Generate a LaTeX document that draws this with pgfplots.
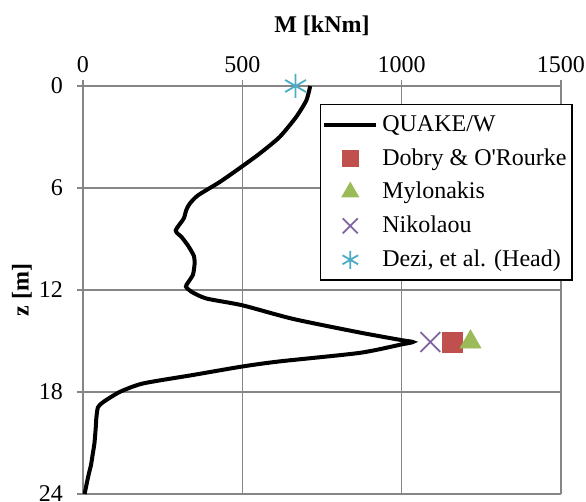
\documentclass[border=0pt]{standalone}
\usepackage{pgfplots}
\pgfplotsset{compat=1.18}
\usepackage{fontspec}
\setmainfont{Liberation Serif}
\definecolor{gridgray}{RGB}{134,134,134}
\definecolor{xred}{RGB}{192,80,77}
\definecolor{xgreen}{RGB}{155,187,89}
\definecolor{xpurple}{RGB}{128,100,162}
\definecolor{xcyan}{RGB}{75,172,198}
\pgfplotsset{
  lineleg/.style={legend image code/.code={\draw[##1] (0pt,0pt) -- (26pt,0pt);}},
  markleg/.style={legend image code/.code={\draw[##1, mark size=#1] plot coordinates {(13pt,0pt)};}},
}
\begin{document}
\begin{tikzpicture}
\begin{axis}[
  scale only axis, width=239pt, height=204pt,
  xmin=0, xmax=1500, ymin=0, ymax=24,
  y dir=reverse,
  axis x line*=top, axis y line*=left,
  axis line style={gridgray, line width=0.75pt, -},
  xtick={0,500,1000,1500}, ytick={0,6,12,18,24},
  grid=major, grid style={gridgray, line width=0.75pt},
  tick align=outside, major tick length=3pt,
  tick style={gridgray, line width=0.75pt},
  font=\fontsize{12}{14}\selectfont,
  yticklabel style={xshift=-3.5pt},
  /pgf/number format/assume math mode=true,
  /pgf/number format/set thousands separator={},
  every axis x label/.style={at={(axis description cs:0.5,1)}, anchor=center, yshift=30pt},
  every axis y label/.style={at={(axis description cs:0,0.5)}, anchor=center, xshift=-30.5pt, rotate=90},
  xlabel={\textbf{M [kNm]}}, ylabel={\textbf{z [m]}},
  legend style={at={(axis description cs:1.025,0.956)}, anchor=north east,
    draw=black, line width=0.75pt, font=\fontsize{12}{14}\selectfont,
    cells={anchor=west}, row sep=3.1pt, inner xsep=0.8pt, inner ysep=3.3pt},
  clip=false,
]
\addplot[black, line width=2pt, smooth, tension=0.4, lineleg] coordinates {
(713,0) (701,0.84) (669,1.82) (617,3.0) (554,3.98) (497,4.76) (429,5.65)
(361,6.43) (335,6.92) (324,7.3) (316,7.8) (291,8.5) (310,8.9) (330,9.4) (348,10.0)
(350,10.5) (345,11.1) (330,11.55) (323,11.8) (340,12.1) (387,12.5) (500,12.9)
(659,13.7) (868,14.5) (1000,14.95) (1035,15.06) (1000,15.2) (868,15.7) (617,16.2)
(500,16.5) (345,17.0) (188,17.5) (115,18.0) (63,18.6) (47,18.9) (42,19.5) (40,20.1)
(36,21.0) (31,21.6) (25,22.3) (16,23.0) (5,24)};
\addlegendentry{QUAKE/W}
\addplot[only marks, mark=square*, mark size=5pt, color=xred, markleg=3.8pt] coordinates {(1159,15.06)};
\addlegendentry{Dobry \& O\textquotesingle Rourke}
\addplot[only marks, mark=triangle*, mark size=6pt, color=xgreen, markleg=4.5pt] coordinates {(1216,15.06)};
\addlegendentry{Mylonakis}
\addplot[only marks, mark=x, mark size=7pt, color=xpurple, line width=0.9pt, markleg=5.3pt] coordinates {(1090,15.06)};
\addlegendentry{Nikolaou}
\addplot[only marks, mark=asterisk, mark size=6pt, color=xcyan, line width=0.9pt, markleg=4.5pt] coordinates {(667,0)};
\addlegendentry{Dezi, et al. (Head)}
\coordinate (o) at (rel axis cs:0,0);
\end{axis}
\pgfresetboundingbox
\path ([shift={(-41.5pt,-4pt)}]o) rectangle ++(293pt,251pt);
\end{tikzpicture}
\end{document}
